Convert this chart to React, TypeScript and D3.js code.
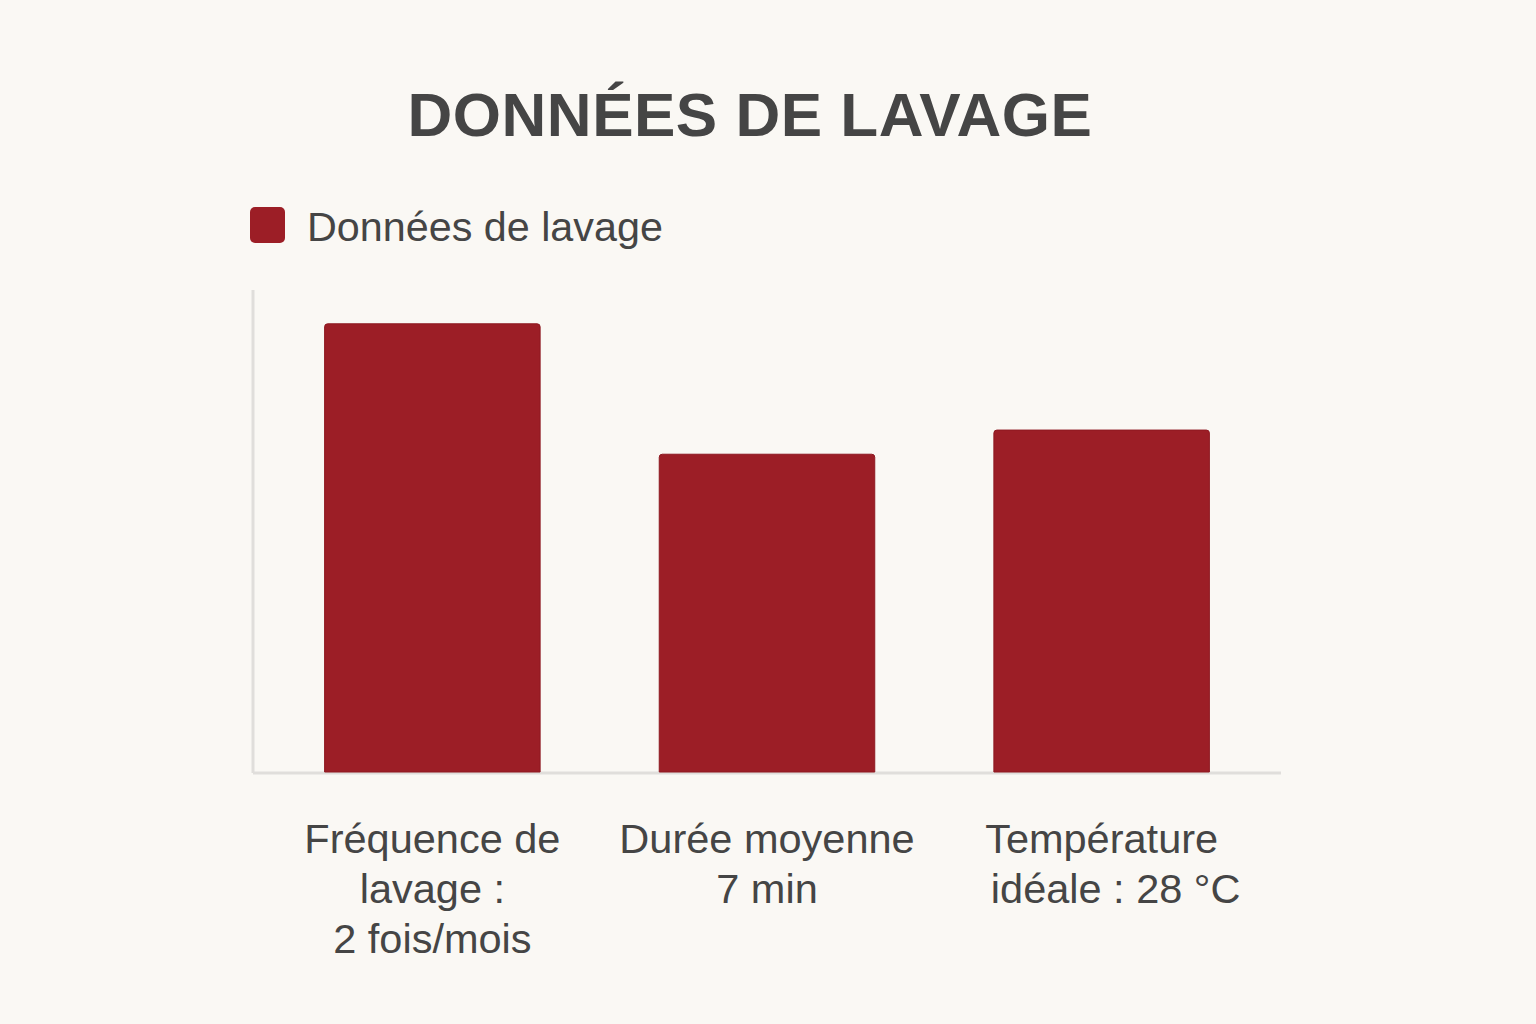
import { scaleBand, scaleLinear } from 'd3';

const categories = ['freq', 'duree', 'temp'];
const values = [93, 66, 71];
const labels = [
  ['Fréquence de', 'lavage :', '2 fois/mois'],
  ['Durée moyenne', '7 min'],
  ['Température', 'idéale : 28 °C'],
];
const title = 'DONNÉES DE LAVAGE';
const seriesName = 'Données de lavage';

export default function App() {
  const width = 1536;
  const height = 1024;
  const plot = { left: 253, right: 1281, top: 290, bottom: 773 };
  const barColor = '#9c1e26';
  const textColor = '#454545';
  const font = '"Liberation Sans", Arial, sans-serif';

  const x = scaleBand()
    .domain(categories)
    .range([plot.left, plot.right])
    .paddingInner(0.356)
    .paddingOuter(0.214);

  const y = scaleLinear().domain([0, 100]).range([plot.bottom, plot.top]);

  return (
    <svg
      width={width}
      height={height}
      style={{ display: 'block', position: 'absolute', left: 0, top: 0, background: '#faf8f4' }}
    >
      <rect width={width} height={height} fill="#faf8f4" />
      <text
        x={750}
        y={136}
        textAnchor="middle"
        fontFamily={font}
        fontWeight="bold"
        fontSize={62}
        fill={textColor}
        letterSpacing={0.5}
      >
        {title}
      </text>

      {/* légende */}
      <rect x={250} y={207} width={35} height={36} rx={5} fill={barColor} />
      <text x={307} y={241} fontFamily={font} fontSize={41.3} fill={textColor}>
        {seriesName}
      </text>

      {/* axes */}
      <line x1={plot.left} x2={plot.left} y1={plot.top} y2={plot.bottom} stroke="#e0dedb" strokeWidth={3} />
      <line x1={plot.left} x2={plot.right} y1={plot.bottom} y2={plot.bottom} stroke="#e0dedb" strokeWidth={3} />

      {categories.map((c, i) => (
        <path
          key={c}
          d={(() => {
            const x0 = x(c)!;
            const w = x.bandwidth();
            const y0 = y(values[i]);
            const yb = y(0) - 1;
            const r = 3;
            return `M${x0},${yb}V${y0 + r}Q${x0},${y0} ${x0 + r},${y0}H${x0 + w - r}Q${x0 + w},${y0} ${x0 + w},${y0 + r}V${yb}Z`;
          })()}
          fill={barColor}
          stroke="#8e1820"
          strokeWidth={1}
        />
      ))}

      {categories.map((c, i) => (
        <text
          key={c}
          x={x(c)! + x.bandwidth() / 2}
          y={853}
          textAnchor="middle"
          fontFamily={font}
          fontSize={41.5}
          fill={textColor}
        >
          {labels[i].map((l, j) => (
            <tspan key={j} x={x(c)! + x.bandwidth() / 2 + (i === 2 && j === 1 ? 14 : 0)} dy={j === 0 ? 0 : 50}>
              {l}
            </tspan>
          ))}
        </text>
      ))}
    </svg>
  );
}
